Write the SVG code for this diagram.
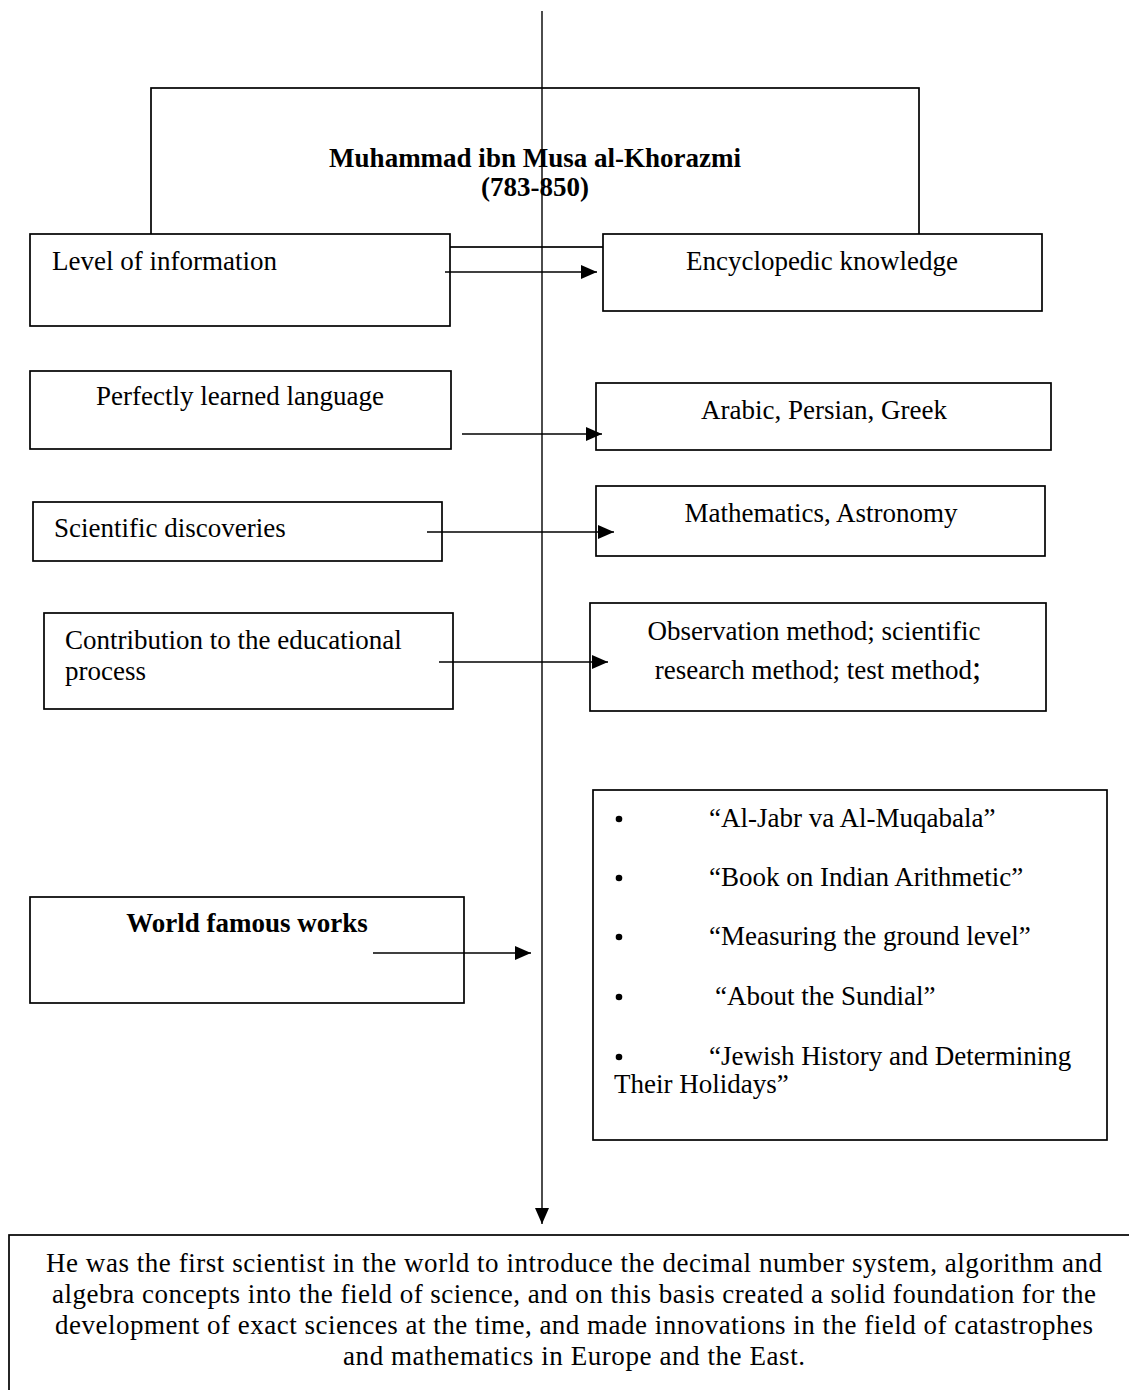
<svg xmlns="http://www.w3.org/2000/svg" width="1129" height="1390" viewBox="0 0 1129 1390">
<style>
  .box { fill: #fff; stroke: #000; stroke-width: 1.7; }
  .t { font-family: "Liberation Serif", "Times New Roman", serif; font-size: 27px; fill: #000; }
  .b { font-weight: bold; }
  .c { text-anchor: middle; }
  .dot { fill: #000; }
  .ln { stroke: #000; stroke-width: 1.4; fill: none; }
</style>
<defs>
  <marker id="ah" markerUnits="userSpaceOnUse" markerWidth="16" markerHeight="14" refX="16" refY="7" orient="auto">
    <path d="M0,0 L16,7 L0,14 Z" fill="#000"/>
  </marker>
</defs>
<rect width="1129" height="1390" fill="#fff"/>

<g id="title">
  <rect class="box" x="151" y="88" width="768" height="159"/>
  <text class="t b c" x="535" y="167" font-size="27.7">Muhammad ibn Musa al-Khorazmi</text>
  <text class="t b c" x="535" y="196" font-size="27.7">(783-850)</text>
</g>

<g id="level">
  <rect class="box" x="30" y="234" width="420" height="92"/>
  <text class="t" x="52" y="270">Level of information</text>
</g>
<g id="encyclopedic">
  <rect class="box" x="603" y="234" width="439" height="77"/>
  <text class="t c" x="822" y="270">Encyclopedic knowledge</text>
</g>

<g id="language">
  <rect class="box" x="30" y="371" width="421" height="78"/>
  <text class="t c" x="240" y="405">Perfectly learned language</text>
</g>
<g id="arabic">
  <rect class="box" x="596" y="383" width="455" height="67"/>
  <text class="t c" x="824" y="419">Arabic, Persian, Greek</text>
</g>

<g id="scientific">
  <rect class="box" x="33" y="502" width="409" height="59"/>
  <text class="t" x="54" y="537">Scientific discoveries</text>
</g>
<g id="mathematics">
  <rect class="box" x="596" y="486" width="449" height="70"/>
  <text class="t c" x="821" y="522">Mathematics, Astronomy</text>
</g>

<g id="contribution">
  <rect class="box" x="44" y="613" width="409" height="96"/>
  <text class="t" x="65" y="649">Contribution to the educational</text>
  <text class="t" x="65" y="680">process</text>
</g>
<g id="observation">
  <rect class="box" x="590" y="603" width="456" height="108"/>
  <text class="t c" x="814" y="640">Observation method; scientific</text>
  <text class="t c" x="818" y="679">research method; test method<tspan font-size="33">;</tspan></text>
</g>

<g id="works">
  <rect class="box" x="30" y="897" width="434" height="106"/>
  <text class="t b c" x="247" y="932" font-size="27.7">World famous works</text>
</g>
<g id="workslist">
  <rect class="box" x="593" y="790" width="514" height="350"/>
  <circle class="dot" cx="619" cy="819" r="3.3"/>
  <text class="t" x="709" y="827">“Al-Jabr va Al-Muqabala”</text>
  <circle class="dot" cx="619" cy="878" r="3.3"/>
  <text class="t" x="709" y="886">“Book on Indian Arithmetic”</text>
  <circle class="dot" cx="619" cy="937" r="3.3"/>
  <text class="t" x="709" y="945">“Measuring the ground level”</text>
  <circle class="dot" cx="619" cy="997" r="3.3"/>
  <text class="t" x="715" y="1005">“About the Sundial”</text>
  <circle class="dot" cx="619" cy="1057" r="3.3"/>
  <text class="t" x="709" y="1065">“Jewish History and Determining</text>
  <text class="t" x="614" y="1093">Their Holidays”</text>
</g>

<g id="conclusion">
  <rect class="box" x="9" y="1235" width="1140" height="180"/>
  <text class="t c" x="574" y="1272" font-size="28" textLength="1056" lengthAdjust="spacing">He was the first scientist in the world to introduce the decimal number system, algorithm and</text>
  <text class="t c" x="574" y="1303" font-size="28" textLength="1044" lengthAdjust="spacing">algebra concepts into the field of science, and on this basis created a solid foundation for the</text>
  <text class="t c" x="574" y="1334" font-size="28" textLength="1038" lengthAdjust="spacing">development of exact sciences at the time, and made innovations in the field of catastrophes</text>
  <text class="t c" x="574" y="1365" font-size="28" textLength="462" lengthAdjust="spacing">and mathematics in Europe and the East.</text>
</g>

<g id="connectors">
  <line class="ln" x1="445" y1="272" x2="597" y2="272" marker-end="url(#ah)"/>
  <line class="ln" x1="462" y1="434" x2="602" y2="434" marker-end="url(#ah)"/>
  <line class="ln" x1="427" y1="532" x2="614" y2="532" marker-end="url(#ah)"/>
  <line class="ln" x1="439" y1="662" x2="608" y2="662" marker-end="url(#ah)"/>
  <line class="ln" x1="373" y1="953" x2="531" y2="953" marker-end="url(#ah)"/>
  <line class="ln" x1="542" y1="11" x2="542" y2="1224" marker-end="url(#ah)"/>
</g>
</svg>
